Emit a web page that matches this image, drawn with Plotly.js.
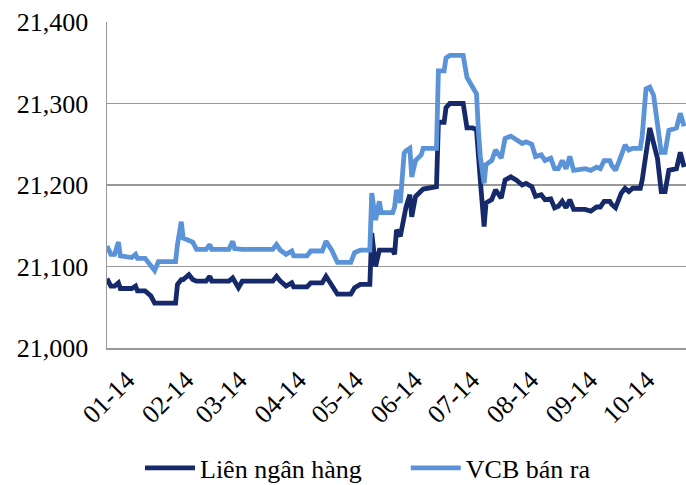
<!DOCTYPE html>
<html>
<head>
<meta charset="utf-8">
<script src="https://cdn.plot.ly/plotly-3.0.1.min.js"></script>
<style>html,body{margin:0;padding:0;background:#fff;}#chart{width:686px;height:485px;}</style>
</head>
<body>
<div id="chart"></div>
<script>
var dates = ['2014-01-01','2014-01-03','2014-01-05','2014-01-07','2014-01-08','2014-01-14','2014-01-16','2014-01-17','2014-01-21','2014-01-24','2014-01-26','2014-01-28','2014-02-06','2014-02-07','2014-02-09','2014-02-10','2014-02-13','2014-02-15','2014-02-17','2014-02-22','2014-02-24','2014-02-25','2014-03-06','2014-03-08','2014-03-09','2014-03-11','2014-03-13','2014-03-29','2014-03-31','2014-04-02','2014-04-05','2014-04-08','2014-04-09','2014-04-16','2014-04-18','2014-04-24','2014-04-26','2014-04-29','2014-05-02','2014-05-09','2014-05-11','2014-05-14','2014-05-19','2014-05-20','2014-05-22','2014-05-24','2014-05-25','2014-05-31','2014-06-01','2014-06-02','2014-06-04','2014-06-06','2014-06-07','2014-06-09','2014-06-10','2014-06-12','2014-06-15','2014-06-16','2014-06-23','2014-06-24','2014-06-27','2014-06-28','2014-06-30','2014-07-07','2014-07-09','2014-07-12','2014-07-14','2014-07-15','2014-07-16','2014-07-18','2014-07-19','2014-07-22','2014-07-24','2014-07-27','2014-07-29','2014-08-01','2014-08-04','2014-08-07','2014-08-09','2014-08-12','2014-08-14','2014-08-17','2014-08-19','2014-08-22','2014-08-24','2014-08-26','2014-08-28','2014-08-30','2014-09-01','2014-09-03','2014-09-09','2014-09-12','2014-09-15','2014-09-17','2014-09-19','2014-09-22','2014-09-23','2014-09-25','2014-09-27','2014-09-28','2014-09-30','2014-10-02','2014-10-04','2014-10-08','2014-10-09','2014-10-11','2014-10-13','2014-10-15','2014-10-17','2014-10-19','2014-10-21','2014-10-23','2014-10-27','2014-10-29','2014-10-31'];

var vcb = [21125,21115,21115,21130,21113,21111,21115,21110,21110,21100,21095,21106,21106,21127,21155,21135,21131,21130,21121,21121,21127,21121,21121,21131,21122,21121,21121,21121,21127,21120,21115,21119,21113,21113,21119,21119,21131,21120,21105,21105,21117,21120,21120,21190,21157,21180,21166,21166,21173,21194,21178,21239,21242,21245,21210,21230,21237,21245,21245,21340,21340,21356,21359,21359,21332,21320,21312,21267,21235,21202,21225,21230,21243,21233,21257,21260,21256,21251,21253,21250,21235,21237,21230,21233,21220,21220,21230,21220,21235,21218,21220,21218,21222,21220,21230,21230,21224,21218,21230,21237,21249,21243,21245,21245,21260,21318,21320,21310,21275,21240,21240,21267,21270,21288,21272];

var lnh = [21085,21076,21076,21080,21073,21073,21076,21070,21070,21064,21055,21055,21055,21078,21084,21084,21090,21084,21082,21082,21088,21082,21082,21086,21082,21074,21082,21082,21088,21082,21076,21080,21075,21075,21080,21080,21088,21078,21066,21066,21074,21078,21078,21141,21100,21120,21120,21120,21115,21145,21137,21165,21173,21188,21161,21186,21192,21195,21198,21277,21277,21295,21300,21300,21270,21270,21268,21230,21206,21149,21178,21182,21194,21184,21206,21210,21206,21200,21202,21198,21186,21188,21182,21183,21172,21174,21180,21172,21182,21170,21170,21168,21173,21173,21180,21180,21176,21172,21182,21190,21196,21192,21196,21196,21206,21239,21270,21251,21233,21192,21192,21218,21220,21240,21222];

var tickVals = ['2014-01-01','2014-02-01','2014-03-01','2014-04-01','2014-05-01','2014-06-01','2014-07-01','2014-08-01','2014-09-01','2014-10-01'];
var tickText = ['01-14','02-14','03-14','04-14','05-14','06-14','07-14','08-14','09-14','10-14'];
var seriesNames = ['Liên ngân hàng','VCB bán ra'];

var fontFam = '"Liberation Serif", "Times New Roman", serif';

var traces = [
  {x: dates, y: lnh, name: seriesNames[0], type: 'scatter', mode: 'lines', legend: 'legend',
   line: {color: '#15296b', width: 4.8}},
  {x: dates, y: vcb, name: seriesNames[1], type: 'scatter', mode: 'lines', legend: 'legend2',
   line: {color: '#5b93d9', width: 4.8}}
];

var legendBase = {orientation: 'h', xanchor: 'left', yref: 'container', y: 0.035, yanchor: 'middle',
  font: {family: fontFam, size: 26, color: '#000'}, itemwidth: 50, bgcolor: 'rgba(0,0,0,0)'};

var layout = {
  width: 686, height: 485,
  margin: {l: 107, r: 0, t: 22, b: 137},
  paper_bgcolor: '#fff', plot_bgcolor: '#fff',
  font: {family: fontFam, size: 26, color: '#000'},
  showlegend: true,
  legend: Object.assign({}, legendBase, {x: 0.057}),
  legend2: Object.assign({}, legendBase, {x: 0.516}),
  xaxis: {
    type: 'date', range: ['2014-01-01', '2014-11-01'],
    tickmode: 'array', tickvals: tickVals, ticktext: tickText, tickangle: -45,
    ticklabelshift: 20, ticklabelstandoff: 5,
    showgrid: false, zeroline: false, showline: true, linecolor: '#999', linewidth: 1.5,
    mirror: false, ticks: '', tickfont: {family: fontFam, size: 26, color: '#000'}
  },
  yaxis: {
    range: [21000, 21400], dtick: 100, tick0: 21000, tickformat: ',d',
    showgrid: true, gridcolor: '#999', gridwidth: 1.5, zeroline: false,
    showline: true, linecolor: '#999', linewidth: 1.5, ticks: '',
    ticklabelstandoff: 12,
    tickfont: {family: fontFam, size: 26, color: '#000'}
  }
};

Plotly.newPlot('chart', traces, layout, {displayModeBar: false, staticPlot: true});
</script>
</body>
</html>
